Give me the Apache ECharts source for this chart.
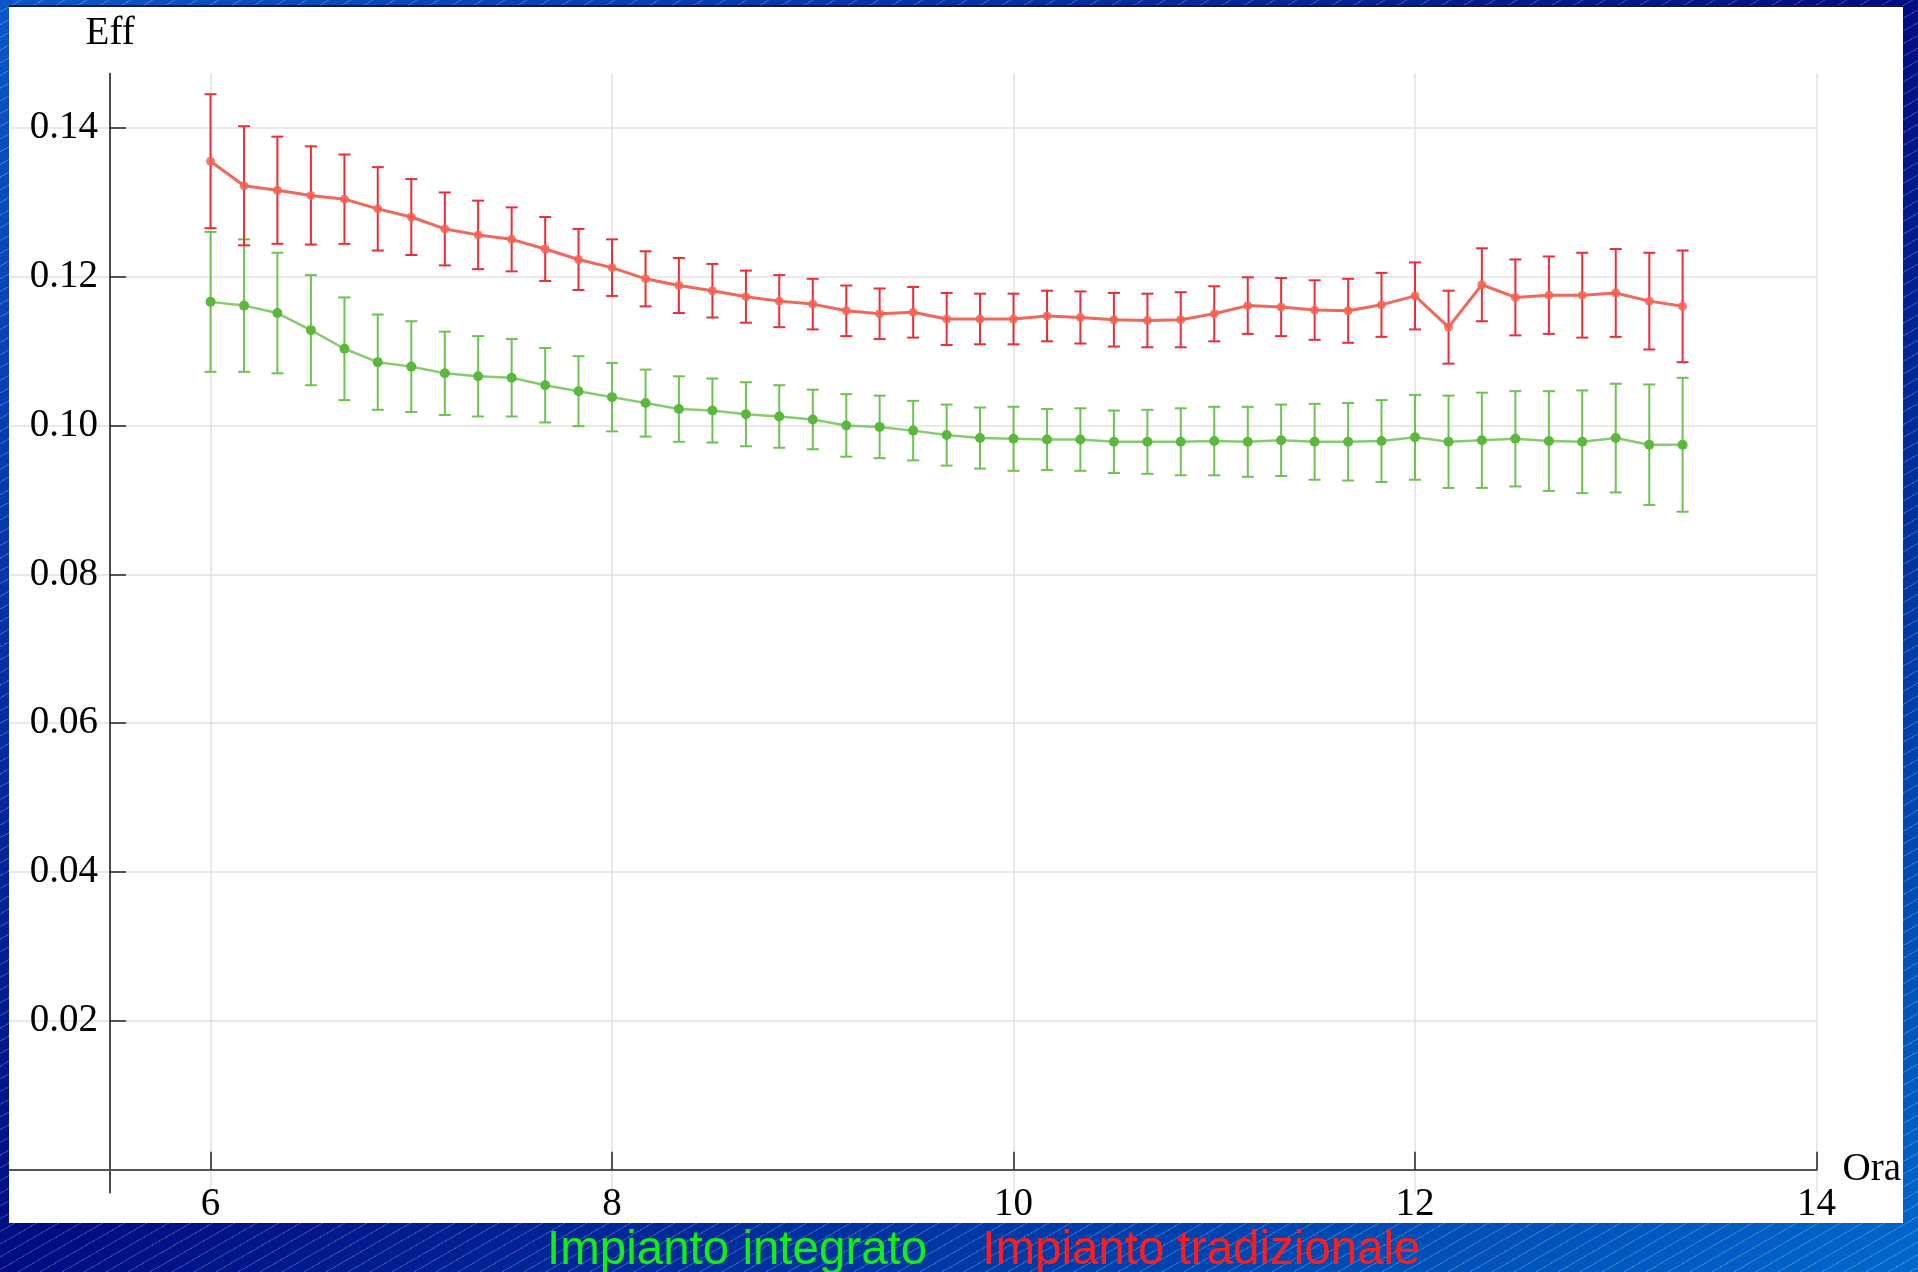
<!DOCTYPE html>
<html>
<head>
<meta charset="utf-8">
<script src="https://cdn.jsdelivr.net/npm/echarts@6/dist/echarts.min.js"></script>
<style>
  html, body { margin: 0; padding: 0; width: 1918px; height: 1272px; overflow: hidden; }
  body {
    background:
      repeating-linear-gradient(150deg, rgba(255,255,255,0) 0px, rgba(255,255,255,0) 10px, rgba(255,255,255,0.22) 10px, rgba(255,255,255,0.22) 11px),
      linear-gradient(to bottom right, #0b56c9 0%, #000c82 50%, #0068cc 100%);
  }
  #chart { width: 1918px; height: 1272px; }
</style>
</head>
<body>
<div id="chart"></div>
<script>
// Time of day (hours), one reading every 10 minutes
const times = [6.000, 6.167, 6.333, 6.500, 6.667, 6.833, 7.000, 7.167, 7.333, 7.500,
  7.667, 7.833, 8.000, 8.167, 8.333, 8.500, 8.667, 8.833, 9.000, 9.167,
  9.333, 9.500, 9.667, 9.833, 10.000, 10.167, 10.333, 10.500, 10.667, 10.833,
  11.000, 11.167, 11.333, 11.500, 11.667, 11.833, 12.000, 12.167, 12.333, 12.500,
  12.667, 12.833, 13.000, 13.167, 13.333];

// Impianto integrato (green)
const integratoValues = [0.1166, 0.1161, 0.1151, 0.1128, 0.1103, 0.1085, 0.1079, 0.1070, 0.1066, 0.1064,
  0.1054, 0.1046, 0.1038, 0.1030, 0.1022, 0.1020, 0.1015, 0.1012, 0.1008, 0.1000,
  0.0998, 0.0993, 0.0987, 0.0983, 0.0982, 0.0981, 0.0981, 0.0978, 0.0978, 0.0978,
  0.0979, 0.0978, 0.0980, 0.0978, 0.0978, 0.0979, 0.0984, 0.0978, 0.0980, 0.0982,
  0.0979, 0.0978, 0.0983, 0.0974, 0.0974];
const integratoErrors = [0.0094, 0.0089, 0.0081, 0.0074, 0.0069, 0.0064, 0.0061, 0.0056, 0.0054, 0.0052,
  0.0050, 0.0047, 0.0046, 0.0045, 0.0044, 0.0043, 0.0043, 0.0042, 0.0040, 0.0042,
  0.0042, 0.0040, 0.0041, 0.0041, 0.0043, 0.0041, 0.0042, 0.0042, 0.0043, 0.0045,
  0.0046, 0.0047, 0.0048, 0.0051, 0.0052, 0.0055, 0.0057, 0.0062, 0.0064, 0.0064,
  0.0067, 0.0069, 0.0073, 0.0081, 0.0090];

// Impianto tradizionale (red)
const tradizionaleValues = [0.1355, 0.1322, 0.1316, 0.1309, 0.1304, 0.1291, 0.1280, 0.1264, 0.1256, 0.1250,
  0.1237, 0.1223, 0.1212, 0.1197, 0.1188, 0.1181, 0.1173, 0.1167, 0.1163, 0.1154,
  0.1150, 0.1152, 0.1143, 0.1143, 0.1143, 0.1147, 0.1145, 0.1142, 0.1141, 0.1142,
  0.1150, 0.1161, 0.1159, 0.1155, 0.1154, 0.1162, 0.1174, 0.1132, 0.1189, 0.1172,
  0.1175, 0.1175, 0.1178, 0.1167, 0.1160];
const tradizionaleErrors = [0.0090, 0.0080, 0.0072, 0.0066, 0.0060, 0.0056, 0.0051, 0.0049, 0.0046, 0.0043,
  0.0043, 0.0041, 0.0038, 0.0037, 0.0037, 0.0036, 0.0035, 0.0035, 0.0034, 0.0034,
  0.0034, 0.0034, 0.0035, 0.0034, 0.0034, 0.0034, 0.0035, 0.0036, 0.0036, 0.0037,
  0.0037, 0.0038, 0.0039, 0.0040, 0.0043, 0.0043, 0.0045, 0.0049, 0.0049, 0.0051,
  0.0052, 0.0057, 0.0059, 0.0065, 0.0075];

const xTickValues = [6, 8, 10, 12, 14];
const yTickValues = [0.02, 0.04, 0.06, 0.08, 0.10, 0.12, 0.14];
const seriesNames = ['Impianto integrato', 'Impianto tradizionale'];
const xName = 'Ora';
const yName = 'Eff';

const GREEN_BAR = '#6cc350', GREEN_LINE = '#78c560', GREEN_DOT = '#5cb83c';
const RED_BAR = '#ee2c38', RED_LINE = '#f0574a', RED_DOT = '#f26454';
const SERIF = '"Liberation Serif", "Times New Roman", serif';

function points(vals) { return times.map((t, i) => [t, vals[i]]); }
function bars(vals, errs) { return times.map((t, i) => [t, vals[i] - errs[i], vals[i] + errs[i]]); }

function errRender(color) {
  return function (params, api) {
    const x = api.value(0);
    const top = api.coord([x, api.value(2)]);
    const bot = api.coord([x, api.value(1)]);
    const half = 6;
    const st = { stroke: color, lineWidth: 2 };
    return {
      type: 'group',
      children: [
        { type: 'line', shape: { x1: top[0], y1: top[1], x2: bot[0], y2: bot[1] }, style: st },
        { type: 'line', shape: { x1: top[0] - half, y1: top[1], x2: top[0] + half, y2: top[1] }, style: st },
        { type: 'line', shape: { x1: bot[0] - half, y1: bot[1], x2: bot[0] + half, y2: bot[1] }, style: st }
      ]
    };
  };
}

const chart = echarts.init(document.getElementById('chart'), null, { renderer: 'canvas' });
chart.setOption({
  animation: false,
  backgroundColor: 'transparent',
  graphic: [
    { type: 'rect', z: -100, shape: { x: 9, y: 6, width: 1894, height: 1217 }, style: { fill: '#ffffff' } },
    { type: 'line', z: -99, shape: { x1: 9, y1: 6, x2: 1903, y2: 6 }, style: { stroke: '#1a1a2a', lineWidth: 2 } }
  ],
  legend: {
    data: [
      { name: seriesNames[0], textStyle: { color: '#14ee14' } },
      { name: seriesNames[1], textStyle: { color: '#ff1c1c' } }
    ],
    icon: 'none',
    itemWidth: 0,
    itemHeight: 48,
    itemGap: 50,
    left: 542,
    top: 1227,
    padding: 0,
    selectedMode: false,
    textStyle: { fontFamily: '"Liberation Sans", Arial, sans-serif', fontSize: 47.5 }
  },
  grid: { left: 9.8, right: 101.5, top: 73.4, bottom: 79.3, containLabel: false, outerBoundsMode: 'none' },
  xAxis: {
    type: 'value',
    min: 5, max: 14,
    name: xName,
    nameLocation: 'end',
    nameGap: 26,
    nameTextStyle: { fontFamily: SERIF, fontSize: 39, color: '#000', verticalAlign: 'middle' },
    axisLine: { show: true, onZero: true, lineStyle: { color: '#555', width: 2 } },
    axisTick: { show: true, inside: true, length: 18, customValues: xTickValues, lineStyle: { color: '#222', width: 1.5 } },
    axisLabel: { show: true, customValues: xTickValues, margin: -7, fontFamily: SERIF, fontSize: 39, color: '#000',
      formatter: v => String(Math.round(v)) },
    splitLine: { show: true, lineStyle: { color: '#e2e2e2', width: 1.5 } }
  },
  yAxis: {
    type: 'value',
    min: -0.0031, max: 0.1473,
    offset: -100.3,
    name: yName,
    nameLocation: 'end',
    nameGap: 20,
    nameTextStyle: { fontFamily: SERIF, fontSize: 39, color: '#000' },
    axisLine: { show: true, onZero: false, lineStyle: { color: '#111', width: 1.5 } },
    axisTick: { show: true, inside: true, length: 16, customValues: yTickValues, lineStyle: { color: '#222', width: 1.5 } },
    axisLabel: { show: true, customValues: yTickValues, margin: 12, fontFamily: SERIF, fontSize: 39, color: '#000',
      formatter: v => v.toFixed(2) },
    splitLine: { show: true, lineStyle: { color: '#e2e2e2', width: 1.5 } }
  },
  series: [
    { name: seriesNames[0] + ' err', type: 'custom', renderItem: errRender(GREEN_BAR), data: bars(integratoValues, integratoErrors),
      encode: { x: 0, y: [1, 2] }, z: 3, silent: true },
    { name: seriesNames[1] + ' err', type: 'custom', renderItem: errRender(RED_BAR), data: bars(tradizionaleValues, tradizionaleErrors),
      encode: { x: 0, y: [1, 2] }, z: 3, silent: true },
    { name: seriesNames[0], type: 'line', data: points(integratoValues), symbol: 'circle', symbolSize: 10,
      itemStyle: { color: GREEN_DOT }, lineStyle: { color: GREEN_LINE, width: 2.5, opacity: 0.9 }, z: 4 },
    { name: seriesNames[1], type: 'line', data: points(tradizionaleValues), symbol: 'circle', symbolSize: 9,
      itemStyle: { color: RED_DOT, opacity: 0.85 }, lineStyle: { color: RED_LINE, width: 3, opacity: 0.9 }, z: 4 }
  ]
});
</script>
</body>
</html>
